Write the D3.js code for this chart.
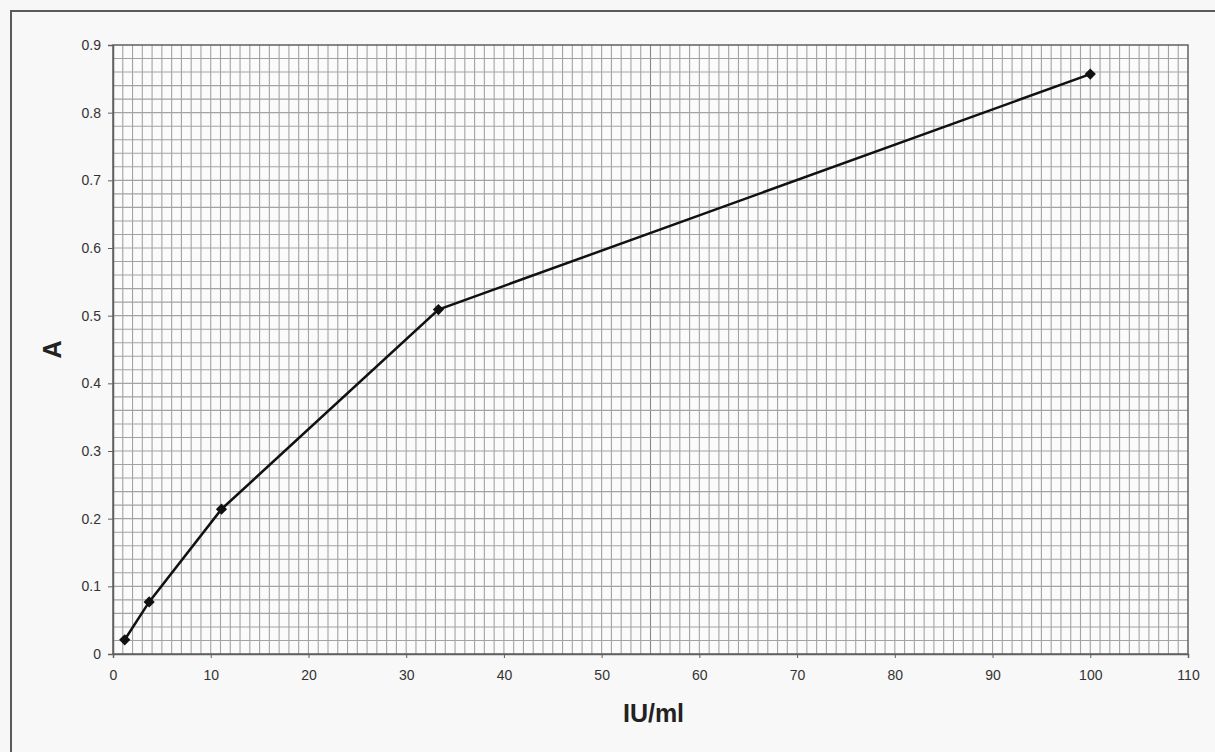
<!DOCTYPE html>
<html>
<head>
<meta charset="utf-8">
<script src="https://cdn.jsdelivr.net/npm/d3@7"></script>
<style>
  html, body { margin: 0; padding: 0; background: #f7f7f7; }
  svg { display: block; }
</style>
</head>
<body>
<svg id="chart" width="1215" height="752"></svg>
<script>
// Data
const concentration = [1.2, 3.7, 11.1, 33.3, 100];      // IU/ml
const absorbance    = [0.021, 0.077, 0.214, 0.509, 0.857]; // A
const xTicks = [0, 10, 20, 30, 40, 50, 60, 70, 80, 90, 100, 110];
const yTicks = [0, 0.1, 0.2, 0.3, 0.4, 0.5, 0.6, 0.7, 0.8, 0.9];
const xLabel = "IU/ml";
const yLabel = "A";

const svg = d3.select("#chart");
const W = 1215, H = 752;
const m = { left: 113, top: 45, right: 1188, bottom: 654 };

// outer frame (extends off the page like the scan)
svg.append("rect")
  .attr("x", 11).attr("y", 11)
  .attr("width", W + 20).attr("height", H + 20)
  .attr("fill", "#f8f8f8")
  .attr("stroke", "#5a5a5a").attr("stroke-width", 2);

const x = d3.scaleLinear().domain([0, 110]).range([m.left, m.right]);
const y = d3.scaleLinear().domain([0, 0.9]).range([m.bottom, m.top]);

const plot = svg.append("g");
plot.append("rect")
  .attr("x", m.left).attr("y", m.top)
  .attr("width", m.right - m.left).attr("height", m.bottom - m.top)
  .attr("fill", "#fbfbfb");

// graph-paper grid
const vLines = d3.range(1, 110, 1);
const hLines = d3.range(1, 45, 1).map(i => i * 0.02);
plot.append("g").selectAll("line").data(vLines).join("line")
  .attr("x1", d => x(d)).attr("x2", d => x(d))
  .attr("y1", m.top).attr("y2", m.bottom)
  .attr("stroke", d => d === 55 ? "#888" : "#a3a3a3")
  .attr("stroke-width", 1.1);
plot.append("g").selectAll("line").data(hLines).join("line")
  .attr("x1", m.left).attr("x2", m.right)
  .attr("y1", d => y(d)).attr("y2", d => y(d))
  .attr("stroke", "#a3a3a3")
  .attr("stroke-width", 1.1);

// plot border
plot.append("rect")
  .attr("x", m.left).attr("y", m.top)
  .attr("width", m.right - m.left).attr("height", m.bottom - m.top)
  .attr("fill", "none").attr("stroke", "#606060").attr("stroke-width", 1.5);

// axes
const xAxis = d3.axisBottom(x).tickValues(xTicks).tickSize(4).tickPadding(12)
  .tickFormat(d3.format("d"));
const yAxis = d3.axisLeft(y).tickValues(yTicks).tickSize(5).tickPadding(7)
  .tickFormat(d => d === 0 ? "0" : d3.format(".1f")(d));

const gx = svg.append("g").attr("transform", `translate(0,${m.bottom})`).call(xAxis);
const gy = svg.append("g").attr("transform", `translate(${m.left},0)`).call(yAxis);
[gx, gy].forEach(g => {
  g.select(".domain").attr("stroke", "#606060").attr("stroke-width", 1.5);
  g.selectAll(".tick line").attr("stroke", "#606060");
  g.selectAll(".tick text")
    .attr("fill", "#333")
    .style("font-family", "Liberation Sans, Arial, sans-serif")
    .style("font-size", "14px");
});

// axis titles
svg.append("text")
  .attr("x", (m.left + m.right) / 2 + 3).attr("y", 722)
  .attr("text-anchor", "middle")
  .style("font-family", "Liberation Sans, Arial, sans-serif")
  .style("font-weight", "bold").style("font-size", "25px")
  .attr("fill", "#222").text(xLabel);
svg.append("text")
  .attr("transform", `translate(61,${(m.top + m.bottom) / 2}) rotate(-90)`)
  .attr("text-anchor", "middle")
  .style("font-family", "Liberation Sans, Arial, sans-serif")
  .style("font-weight", "bold").style("font-size", "25px")
  .attr("fill", "#222").text(yLabel);

// series
const pts = concentration.map((c, i) => [c, absorbance[i]]);
const line = d3.line().x(d => x(d[0])).y(d => y(d[1]));
svg.append("path").datum(pts)
  .attr("d", line)
  .attr("fill", "none").attr("stroke", "#111").attr("stroke-width", 2.5);
svg.append("g").selectAll("path").data(pts).join("path")
  .attr("transform", d => `translate(${x(d[0])},${y(d[1])})`)
  .attr("d", d3.symbol().type(d3.symbolDiamond2).size(80))
  .attr("fill", "#111");
</script>
</body>
</html>
